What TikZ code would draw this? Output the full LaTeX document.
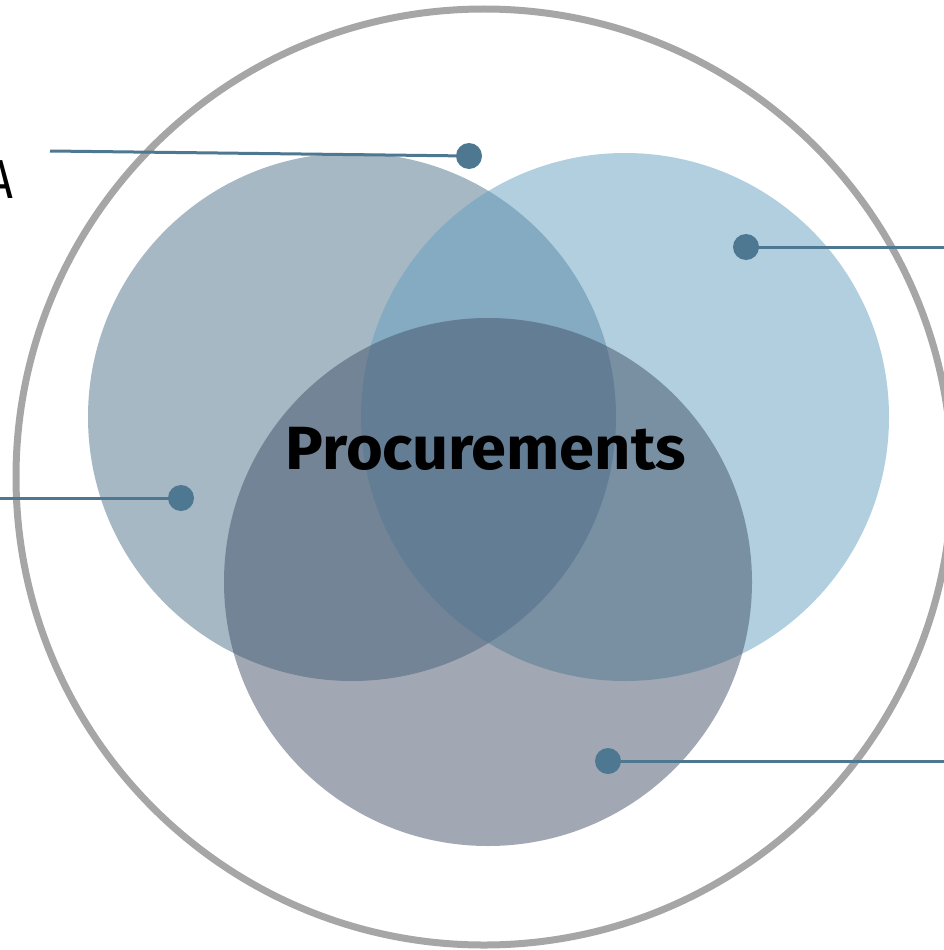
\documentclass[tikz,border=0pt]{standalone}
\usepackage{fontspec}
\setmainfont{Fira Sans}
\newfontfamily\lightfont{Fira Sans Light}
\definecolor{ringgray}{HTML}{A6A6A6}
\definecolor{setone}{HTML}{4B7189}
\definecolor{settwo}{HTML}{639FBF}
\definecolor{setthree}{HTML}{435169}
\definecolor{pincolor}{HTML}{4E7791}
\tikzset{
  ring/.style={draw=ringgray, line width=7pt},
  setdisc/.style={fill opacity=0.5},
  pindot/.style={circle, fill=pincolor, inner sep=0pt, minimum size=26pt},
  leader/.style={draw=pincolor, line width=3pt},
}
\begin{document}
\begin{tikzpicture}[x=1pt, y=-1pt]
  \useasboundingbox (0,0) rectangle (943,950);
  % enclosing ring
  \draw[ring] (484,477) circle[radius=468];
  % the three overlapping sets
  \fill[setone, setdisc]   (352,417) circle[radius=264];
  \fill[settwo, setdisc]   (625,417) circle[radius=264];
  \fill[setthree, setdisc] (488,582) circle[radius=264];
  % title
  \node (title) at (486,449) {\scalebox{1.034}[1]{\fontsize{61}{61}\selectfont\bfseries Procurements}};
  % side label
  \node[anchor=base east, inner sep=0pt] (lblA) at (13,198) {\scalebox{0.85}[1]{\fontsize{55}{55}\selectfont A}};
  % leader ends
  \coordinate (e1) at (50,151);
  \coordinate (e2) at (945,247);
  \coordinate (e3) at (-2,498);
  \coordinate (e4) at (945,761);
  % marker positions
  \coordinate (c1) at (469,156);
  \coordinate (c2) at (746,247);
  \coordinate (c3) at (181,498);
  \coordinate (c4) at (608,761);
  \draw[leader] (e1) -- (c1);
  \draw[leader] (c2) -- (e2);
  \draw[leader] (e3) -- (c3);
  \draw[leader] (c4) -- (e4);
  % marker dots above their leaders
  \node[pindot] (p1) at (c1) {};
  \node[pindot] (p2) at (c2) {};
  \node[pindot] (p3) at (c3) {};
  \node[pindot] (p4) at (c4) {};
\end{tikzpicture}
\end{document}
